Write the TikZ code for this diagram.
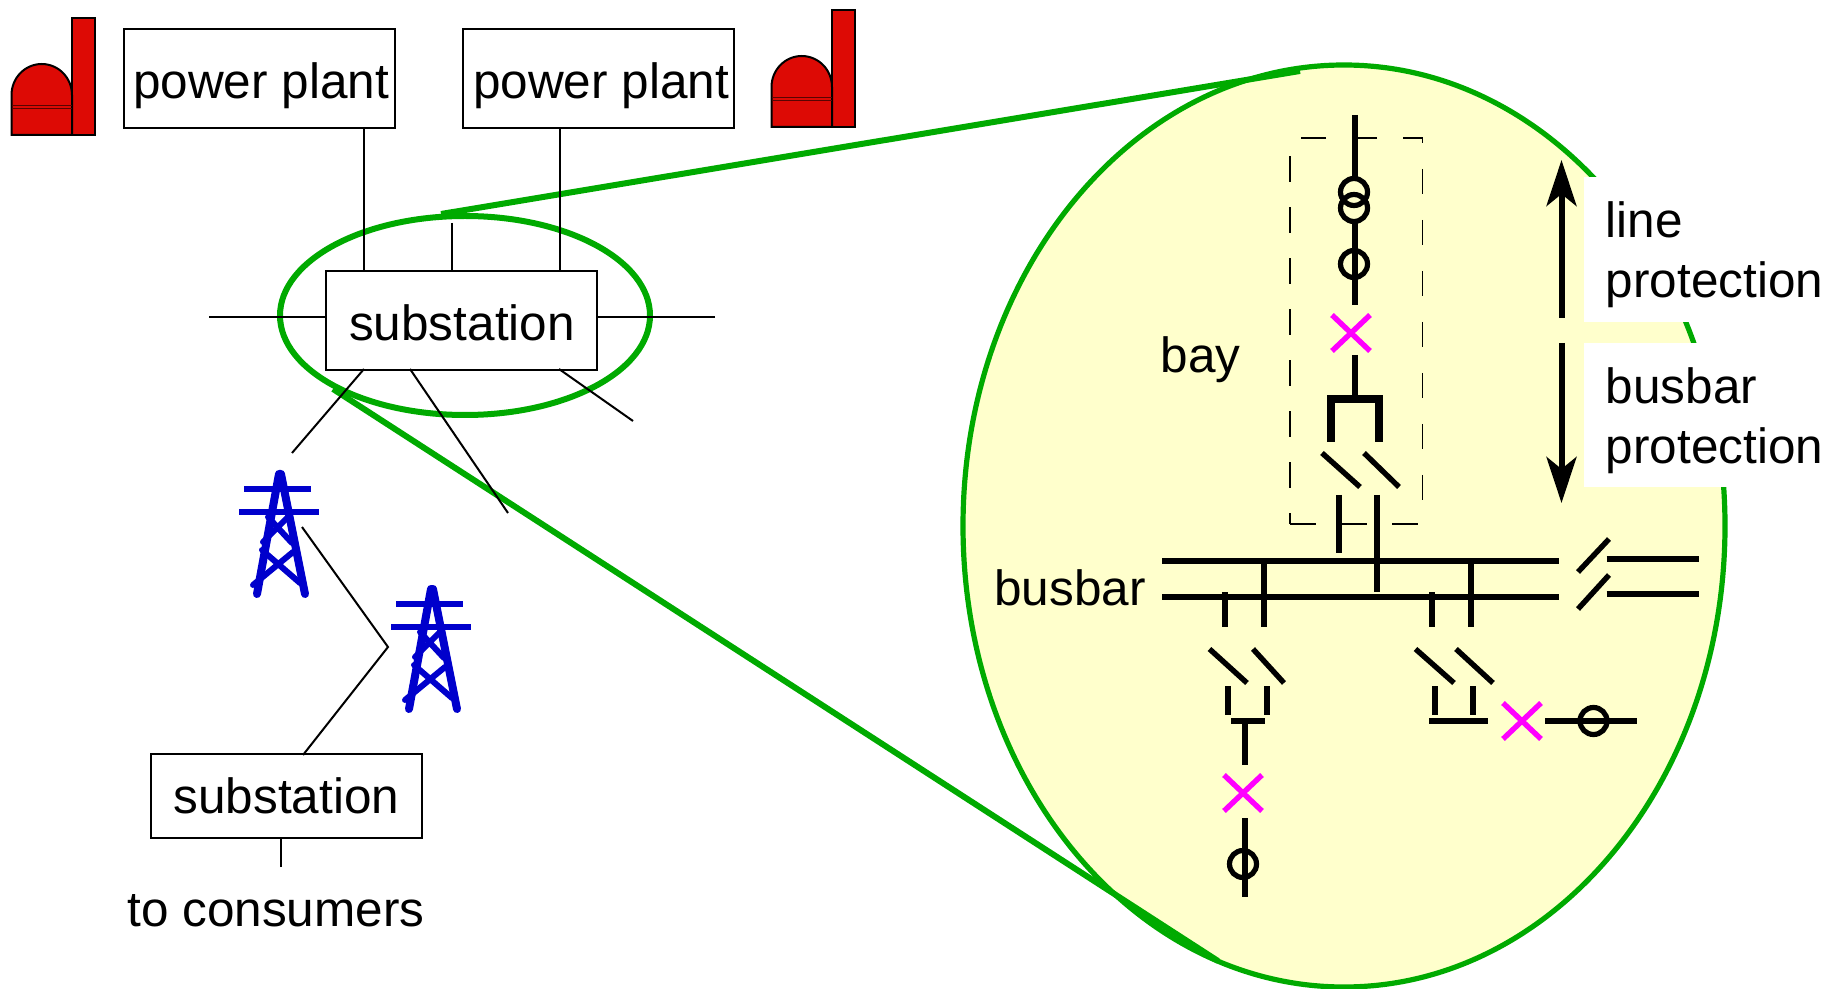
\documentclass[tikz,border=0pt]{standalone}
\usepackage{fontspec}
\setmainfont{Liberation Sans}
\usetikzlibrary{arrows.meta}
\definecolor{gr}{HTML}{00AA00}
\definecolor{ye}{HTML}{FFFFCC}
\definecolor{rd}{HTML}{DD0A05}
\definecolor{bl}{HTML}{0000CC}
\definecolor{mg}{HTML}{FF00FF}
\tikzset{
  box/.style={draw=black,line width=1pt,fill=white,minimum width=135.5pt,minimum height=49.5pt,inner sep=0pt,text height=24pt,text depth=4.5pt,font=\fontsize{24.75}{30}\selectfont},
  lbl/.style={anchor=base west,inner sep=0pt,font=\fontsize{24.75}{30}\selectfont},
  thin line/.style={line width=1pt,black},
  greenline/.style={line width=3pt,gr},
  sw/.style={line width=2.7pt,black},
  bar/.style={line width=3pt,black},
  cross/.style={line width=2.7pt,mg},
  ct/.style={draw=black,line width=2.6pt,circle,minimum size=13.5pt,inner sep=0pt},
  dashbox/.style={line width=.9pt,black,dash pattern=on 12.75pt off 12.75pt},
  arrowline/.style={line width=3pt,black,-{Stealth[length=23pt,width=15pt,inset=6pt]}},
  towerline/.style={line width=4pt,bl,line cap=round,line join=round},
  towerarm/.style={line width=3pt,bl},
}
\newcommand{\plantshape}[2]{%
 \begin{scope}[shift={(#1,#2)}]
  \filldraw[fill=rd,draw=black,line width=1pt] (72,18) rectangle (95,135);
  \filldraw[fill=rd,draw=black,line width=1pt] (11.5,135) -- (11.5,95) arc [start angle=180,end angle=360,x radius=30.25,y radius=31] -- (72,135) -- cycle;
  \draw[line width=.3pt,black!60!rd] (11.5,105) -- (72,105) (11.5,108) -- (72,108);
 \end{scope}}
\newcommand{\towershape}[2]{%
 \begin{scope}[shift={(#1,#2)}]
  \draw[towerarm] (244,489) -- (311,489);
  \draw[towerarm] (239,512) -- (319,512);
  \draw[towerline] (257,594) -- (279,474) -- (281,474) -- (305,594);
  \draw[line width=3pt,bl,line cap=round] (253,585) -- (293,552) (262,550) -- (300,583) (263,542) -- (288,517) (268,517) -- (292,543);
 \end{scope}}
\newcommand{\crossmark}[2]{\draw[cross] (#1-19,#2-18) -- (#1+19,#2+18) (#1-19,#2+18) -- (#1+19,#2-18);}
\begin{document}
\begin{tikzpicture}[x=0.5pt,y=-0.5pt]
\useasboundingbox (0,0) rectangle (1837,989);
\begin{scope}
\clip (0,0) rectangle (1837,989);
\filldraw[fill=ye,draw=gr,line width=2.6pt] (1344,526) ellipse [x radius=381,y radius=461];
\end{scope}
% white label panels
\fill[white] (1584,177) rectangle (1837,322);
\fill[white] (1584,343) rectangle (1837,487);
% boxes
\node[box] (pp1) at (259.5,79) {\hspace{1.5pt}power plant};
\node[box] (pp2) at (598,79) {\hspace{3pt}power plant};
\node[box] (sub1) at (461.5,321) {\hspace{.5pt}substation};
\node[box,minimum height=42pt,text height=21.5pt] (sub2) at (286.5,796) {substation};
% green zoom
\draw[greenline] (465,315.5) ellipse [x radius=185,y radius=99.5];
\coordinate (zt1) at (441,214); \coordinate (zt2) at (1300,71);
\coordinate (zb1) at (333,389); \coordinate (zb2) at (1218,961);
\draw[greenline] (zt1) -- (zt2);
\draw[greenline] (zb1) -- (zb2);
% power plants, towers
\plantshape{0}{0}
\plantshape{760}{-8}
\towershape{0}{0}
\towershape{152}{115}
% connectors
\coordinate (xa) at (364,0); \coordinate (xb) at (560,0); \coordinate (xc) at (452,0);
\coordinate (fc) at (452,223); \coordinate (fl) at (209,317); \coordinate (fr) at (715,317);
\coordinate (f1) at (292,453); \coordinate (f2) at (508,513); \coordinate (f3) at (633,421);
\coordinate (s1) at (364,369); \coordinate (s2) at (410,369); \coordinate (s3) at (559,369);
\coordinate (w1) at (302,527); \coordinate (w2) at (388,647); \coordinate (w3) at (303,755);
\coordinate (st) at (281,0); \coordinate (st2) at (281,867);
\draw[thin line] (pp1.south -| xa) -- (sub1.north -| xa);
\draw[thin line] (pp2.south -| xb) -- (sub1.north -| xb);
\draw[thin line] (fc) -- (sub1.north -| fc);
\draw[thin line] (fl) -- (sub1.west |- fl);
\draw[thin line] (fr) -- (sub1.east |- fr);
\draw[thin line] (s1) -- (f1);
\draw[thin line] (s2) -- (f2);
\draw[thin line] (s3) -- (f3);
\draw[thin line] (w1) -- (w2) -- (w3);
\draw[thin line] (st2) -- (sub2.south -| st2);
% labels
\node[lbl] (lc) at (127,926) {to consumers};
\node[lbl] (lb1) at (994,605) {busbar};
\node[lbl] (lbay) at (1160.5,373) {bay};
\node[lbl] (l1) at (1605.5,238) {line};
\node[lbl] (l2) at (1605.5,298) {protection};
\node[lbl] (l3) at (1605.5,404) {busbar};
\node[lbl] (l4) at (1605.5,464) {protection};
% arrows
\coordinate (au1) at (1561.5,318); \coordinate (au2) at (1561.5,160);
\coordinate (ad1) at (1561.5,343); \coordinate (ad2) at (1561.5,503);
\draw[arrowline] (au1) -- (au2);
\draw[arrowline] (ad1) -- (ad2);
% bay dashed frame
\draw[dashbox,dash phase=2.75pt] (1422.5,138) -- (1290,138);
\draw[dashbox,dash phase=10pt] (1422.5,138) -- (1422.5,524);
\draw[dashbox,dash phase=7.4pt] (1290,524) -- (1290,138);
\draw[dashbox] (1290,524) -- (1422.5,524);
% upper bay
\draw[sw] (1355,115) -- (1355,177);
\node[ct] (c1) at (1354,192) {};
\node[ct] (c2) at (1354,208) {};
\draw[sw] (1355,223) -- (1355,305);
\node[ct] (c3) at (1354,264) {};
\crossmark{1351}{333}
\draw[sw] (1355,355) -- (1355,397);
\draw[line width=3.6pt] (1331,442) -- (1331,399) -- (1379,399) -- (1379,442);
\draw[sw] (1322,453) -- (1360,487) (1364,453) -- (1399,487);
\draw[sw] (1339,495) -- (1339,553);
\draw[sw] (1377,495) -- (1377,592);
% busbars
\draw[bar] (1162,561) -- (1559,561);
\draw[bar] (1162,597) -- (1559,597);
\draw[sw] (1609,539) -- (1578,572) (1609,575) -- (1578,609);
\draw[bar] (1606.5,559) -- (1699,559);
\draw[bar] (1606.5,594) -- (1699,594);
\draw[sw] (1264,558) -- (1264,627) (1225,592) -- (1225,627);
\draw[sw] (1471,558) -- (1471,627) (1432,592) -- (1432,627);
% left feeder
\draw[sw] (1209.5,649) -- (1247,683) (1253,649) -- (1284,683);
\draw[sw] (1228,686) -- (1228,715) (1267,686) -- (1267,715);
\draw[sw] (1231,721) -- (1265,721);
\draw[sw] (1245,721) -- (1245,765);
\crossmark{1243}{793}
\draw[sw] (1245,818) -- (1245,897);
\node[ct] (c4) at (1243,864) {};
% right feeder
\draw[sw] (1415.5,649) -- (1454,683) (1456,649) -- (1493,683);
\draw[sw] (1435,686) -- (1435,715) (1473,686) -- (1473,715);
\draw[sw] (1429,721) -- (1488,721);
\crossmark{1522}{721}
\draw[sw] (1545,721) -- (1636.5,721);
\node[ct] (c5) at (1593.5,721) {};
\end{tikzpicture}
\end{document}
